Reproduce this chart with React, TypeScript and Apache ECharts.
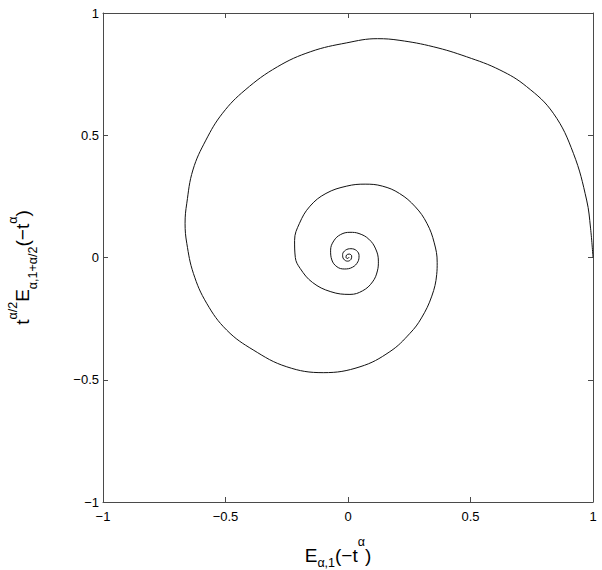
import React, { useEffect, useRef } from "react";
import * as echarts from "echarts";

// Spiral points (x = E_{α,1}(−t^α), y = t^{α/2}E_{α,1+α/2}(−t^α))
const spiralX = [
  1.0, 0.99, 0.974, 0.92, 0.838, 0.729, 0.62, 0.484, 0.348, 0.212, 0.12, -0.005,
  -0.152, -0.288, -0.42, -0.512, -0.58, -0.633, -0.658, -0.665, -0.658, -0.631,
  -0.577, -0.495, -0.387, -0.25, -0.101, 0.049, 0.171, 0.253, 0.3, 0.342, 0.362,
  0.364, 0.352, 0.322, 0.275, 0.21, 0.14, 0.07, -0.005, -0.09, -0.155, -0.198,
  -0.218, -0.215, -0.195, -0.145, -0.07, 0.008, 0.06, 0.1, 0.12, 0.124, 0.113,
  0.085, 0.045, 0.008, -0.03, -0.058, -0.071, -0.066, -0.045, -0.015, 0.018, 0.04,
  0.045, 0.035, 0.012, -0.01, -0.022, -0.018, -0.002, 0.012, 0.015, 0.005, -0.006,
  -0.008, 0.0, 0.004,
];
const spiralY = [
  0.0, 0.12, 0.235, 0.426, 0.59, 0.699, 0.767, 0.821, 0.862, 0.888, 0.895, 0.878,
  0.842, 0.78, 0.685, 0.59, 0.48, 0.358, 0.222, 0.14, 0.058, -0.065, -0.187,
  -0.297, -0.378, -0.447, -0.471, -0.447, -0.385, -0.31, -0.247, -0.158, -0.07,
  -0.02, 0.06, 0.14, 0.207, 0.262, 0.292, 0.3, 0.292, 0.262, 0.21, 0.14, 0.07,
  0.0, -0.045, -0.102, -0.14, -0.151, -0.136, -0.1, -0.055, -0.015, 0.035, 0.075,
  0.098, 0.103, 0.094, 0.068, 0.03, -0.01, -0.038, -0.047, -0.04, -0.018, 0.008,
  0.028, 0.036, 0.03, 0.012, -0.006, -0.015, -0.008, 0.006, 0.014, 0.01, 0.0,
  -0.004, 0.002,
];

const axisMin = -1;
const axisMax = 1;
const axisStep = 0.5;

const FONT = "'Liberation Sans', Arial, Helvetica, sans-serif";
const AXIS_COLOR = "#4a4a4a";

const fmt = (v: number) => (v < 0 ? "\u2212" + String(Math.abs(v)) : String(v));

const richX = {
  m: { fontSize: 19, lineHeight: 50, fontFamily: FONT, color: "#000" },
  sb: { fontSize: 12.5, verticalAlign: "bottom", padding: [0, 0, 11, 0], fontFamily: FONT, color: "#000" },
  sp: { fontSize: 12.5, verticalAlign: "top", padding: [5, 0, 0, 0], fontFamily: FONT, color: "#000" },
};
const richY = {
  m: { fontSize: 19, lineHeight: 50, fontFamily: FONT, color: "#000" },
  sb: { fontSize: 12.5, verticalAlign: "bottom", padding: [0, 0, 8, 0], fontFamily: FONT, color: "#000" },
  sp: { fontSize: 12.5, verticalAlign: "top", padding: [9, 0, 0, 0], fontFamily: FONT, color: "#000" },
};

export default function App() {
  const ref = useRef<HTMLDivElement>(null);
  useEffect(() => {
    if (!ref.current) return;
    const chart = echarts.init(ref.current, undefined, { renderer: "svg" });
    const data = spiralX.map((x, i) => [x, spiralY[i]]);
    const baseAxis = {
      type: "value",
      min: axisMin,
      max: axisMax,
      interval: axisStep,
      splitLine: { show: false },
      axisLine: { show: true, onZero: false, lineStyle: { color: AXIS_COLOR, width: 1 } },
      axisTick: { show: true, inside: true, length: 5, lineStyle: { color: AXIS_COLOR, width: 1 } },
    };
    chart.setOption({
      animation: false,
      grid: { left: 103, right: 9, top: 13, bottom: 68, containLabel: false, outerBoundsMode: "none" },
      xAxis: [
        {
          ...baseAxis,
          position: "bottom",
          axisLabel: { show: true, formatter: fmt, fontSize: 13, fontFamily: FONT, color: "#000", margin: 8 },
          name: "{m|E}{sb|α,1}{m|(\u2212t}{sp|α}{m|)}",
          nameLocation: "middle",
          nameGap: 28,
          nameTextStyle: { rich: richX, padding: [0, 20, 0, 0] },
        },
        { ...baseAxis, position: "top", axisLabel: { show: false } },
      ],
      yAxis: [
        {
          ...baseAxis,
          position: "left",
          axisLabel: { show: true, formatter: fmt, fontSize: 13, fontFamily: FONT, color: "#000", margin: 4 },
          name: "{m|t}{sp|α/2}{m|E}{sb|α,1+α/2}{m|(\u2212t}{sp|α}{m|)}",
          nameLocation: "middle",
          nameRotate: 90,
          nameGap: 56,
          nameTextStyle: { rich: richY, padding: [0, 20, 0, 0] },
        },
        { ...baseAxis, position: "right", axisLabel: { show: false } },
      ],
      series: [
        {
          type: "line",
          xAxisIndex: 0,
          yAxisIndex: 0,
          data,
          smooth: 0.4,
          showSymbol: false,
          symbol: "none",
          lineStyle: { color: "#111", width: 1 },
          clip: false,
        },
      ],
    });
    return () => chart.dispose();
  }, []);
  return (
    <div
      ref={ref}
      style={{ position: "fixed", left: 0, top: 0, width: 602, height: 570, background: "#fff" }}
    />
  );
}
